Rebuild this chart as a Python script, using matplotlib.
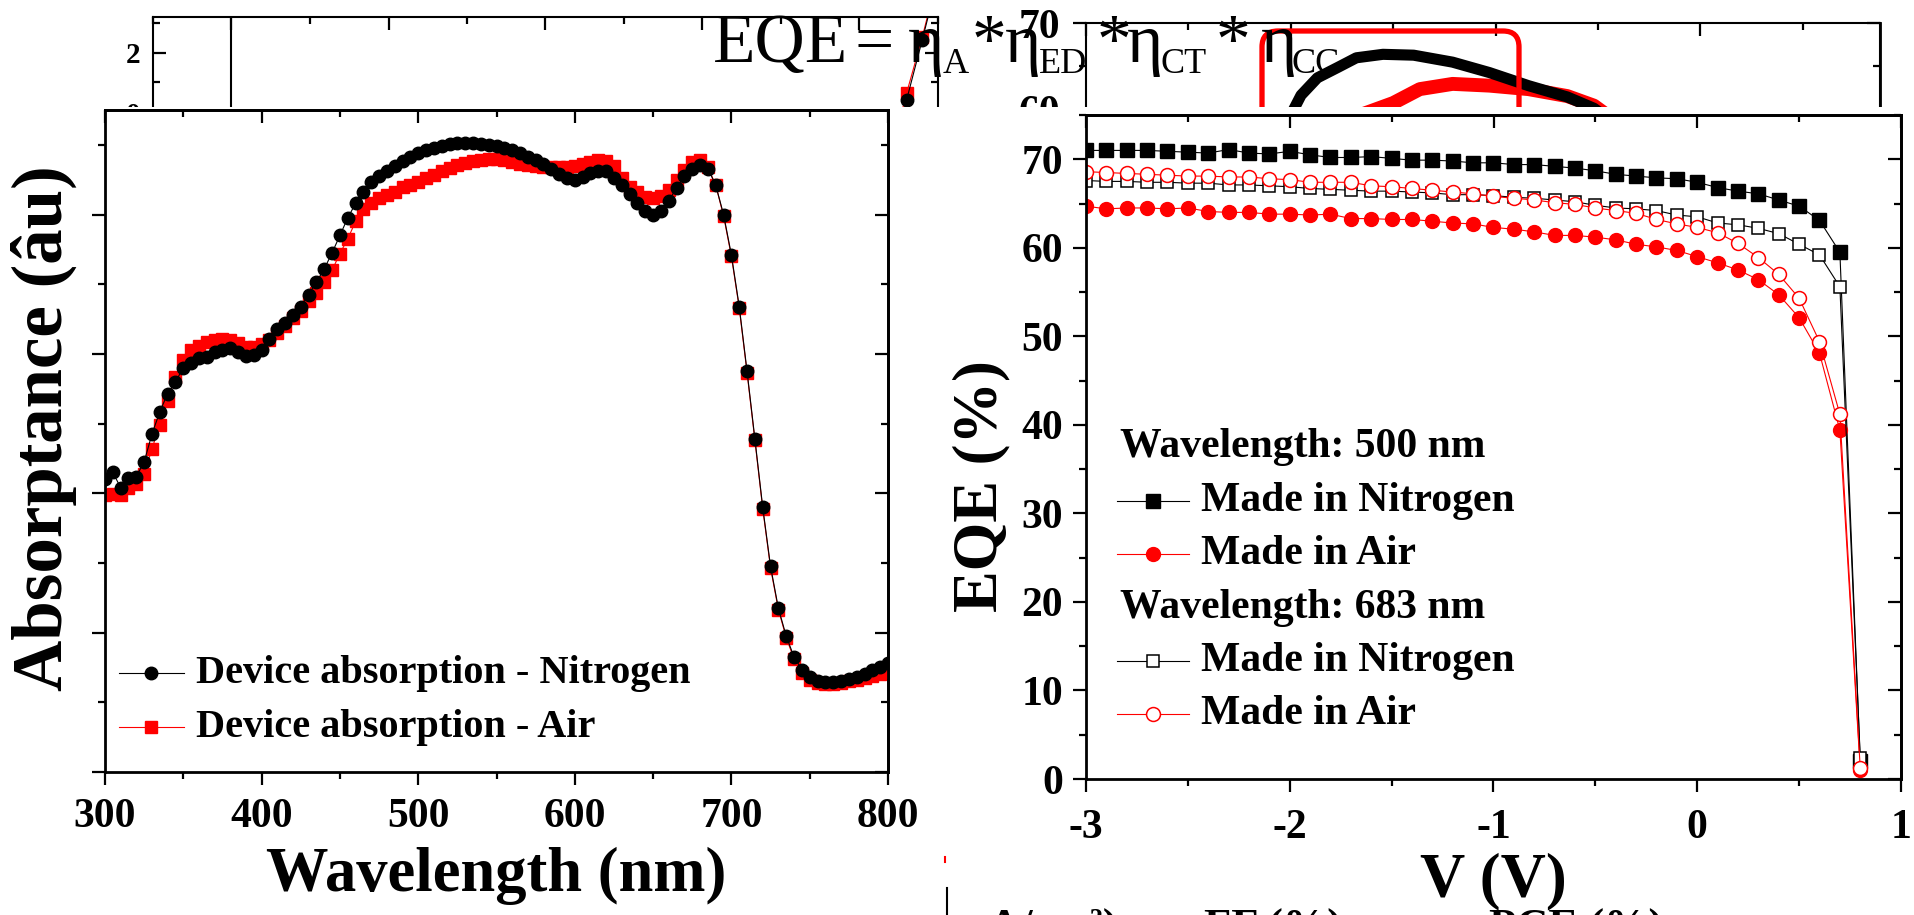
import numpy as np
import matplotlib
matplotlib.use("Agg")
import matplotlib.pyplot as plt
from matplotlib.ticker import MultipleLocator, NullFormatter
from matplotlib.patches import Rectangle, FancyBboxPatch
from matplotlib.lines import Line2D

W, H = 1915, 915

# ---- left panel: device absorptance, 300-800 nm every 5 nm ----
wavelength = np.arange(300, 805, 5)
absorb_nitrogen = [
    4.20, 4.30, 4.08, 4.22, 4.24, 4.45, 4.85, 5.17, 5.43, 5.60,   # 300-345
    5.80, 5.87, 5.94, 5.96, 6.03, 6.06, 6.08, 6.03, 5.97, 5.98,   # 350-395
    6.05, 6.22, 6.36, 6.45, 6.56, 6.68, 6.85, 7.03, 7.22, 7.45,   # 400-445
    7.70, 7.95, 8.16, 8.33, 8.46, 8.56, 8.63, 8.70, 8.77, 8.83,   # 450-495
    8.88, 8.93, 8.96, 8.99, 9.01, 9.02, 9.02, 9.02, 9.01, 9.00,   # 500-545
    8.98, 8.95, 8.92, 8.88, 8.83, 8.78, 8.72, 8.65, 8.58, 8.52,   # 550-595
    8.50, 8.54, 8.59, 8.63, 8.63, 8.53, 8.43, 8.30, 8.16, 8.05,   # 600-645
    7.99, 8.05, 8.20, 8.38, 8.55, 8.65, 8.71, 8.66, 8.42, 8.00,   # 650-695
    7.42, 6.68, 5.75, 4.78, 3.80, 2.95, 2.35, 1.95, 1.65, 1.47,   # 700-745
    1.37, 1.31, 1.29, 1.29, 1.31, 1.34, 1.37, 1.41, 1.46, 1.51,   # 750-795
    1.56]
absorb_air = [
    3.97, 3.99, 3.98, 4.07, 4.14, 4.27, 4.64, 4.98, 5.33, 5.67,
    5.91, 6.05, 6.12, 6.17, 6.20, 6.21, 6.20, 6.16, 6.10, 6.10,
    6.14, 6.20, 6.30, 6.40, 6.52, 6.62, 6.76, 6.87, 7.03, 7.20,
    7.44, 7.65, 7.90, 8.08, 8.16, 8.23, 8.28, 8.33, 8.39, 8.43,
    8.47, 8.52, 8.57, 8.62, 8.67, 8.71, 8.74, 8.77, 8.78, 8.79,
    8.79, 8.78, 8.76, 8.73, 8.71, 8.69, 8.68, 8.68, 8.68, 8.68,
    8.69, 8.72, 8.76, 8.78, 8.77, 8.70, 8.53, 8.40, 8.32, 8.25,
    8.24, 8.27, 8.35, 8.50, 8.64, 8.75, 8.78, 8.68, 8.42, 7.98,
    7.40, 6.66, 5.73, 4.76, 3.78, 2.93, 2.33, 1.93, 1.62, 1.42,
    1.32, 1.28, 1.27, 1.27, 1.28, 1.30, 1.32, 1.35, 1.38, 1.40,
    1.43]
left_labels = ["Device absorption - Nitrogen", "Device absorption - Air"]

# ---- right panel: EQE vs bias, -3.0 to 0.8 V ----
voltage = np.round(np.arange(-3.0, 0.85, 0.1), 1)
eqe_n500 = [71.0, 71.0, 71.0, 71.0, 70.9, 70.8, 70.7, 71.1, 70.7, 70.6,
            70.9, 70.5, 70.2, 70.2, 70.3, 70.1, 69.9, 69.9, 69.8, 69.6,
            69.6, 69.4, 69.4, 69.2, 69.0, 68.7, 68.3, 68.1, 67.9, 67.8,
            67.4, 66.8, 66.4, 66.1, 65.4, 64.7, 63.1, 59.5, 2.0]
eqe_a500 = [64.7, 64.4, 64.5, 64.5, 64.4, 64.5, 64.1, 64.0, 64.0, 63.8,
            63.8, 63.7, 63.8, 63.3, 63.3, 63.2, 63.2, 63.0, 62.8, 62.7,
            62.3, 62.1, 61.8, 61.4, 61.4, 61.2, 60.9, 60.4, 60.1, 59.7,
            59.0, 58.3, 57.5, 56.4, 54.7, 52.1, 48.1, 39.4, 1.0]
eqe_n683 = [67.6, 67.5, 67.5, 67.4, 67.4, 67.3, 67.3, 67.1, 67.1, 67.0,
            66.9, 66.7, 66.6, 66.5, 66.4, 66.4, 66.3, 66.2, 66.0, 66.0,
            65.9, 65.7, 65.6, 65.4, 65.2, 64.8, 64.5, 64.4, 64.2, 63.7,
            63.5, 62.8, 62.6, 62.2, 61.6, 60.4, 59.2, 55.6, 2.4]
eqe_a683 = [68.6, 68.5, 68.4, 68.3, 68.2, 68.1, 68.1, 68.0, 68.0, 67.8,
            67.7, 67.4, 67.4, 67.4, 67.0, 66.9, 66.7, 66.5, 66.3, 66.1,
            65.8, 65.6, 65.4, 65.1, 64.9, 64.5, 64.2, 63.9, 63.2, 62.7,
            62.3, 61.7, 60.5, 58.9, 57.0, 54.3, 49.4, 41.2, 1.2]
right_labels = ["Wavelength: 500 nm", "Made in Nitrogen", "Made in Air",
                "Wavelength: 683 nm", "Made in Nitrogen", "Made in Air"]

# ---- fragments of the figures lying underneath ----
strip_wl = [725, 730, 740, 745]
strip_nitrogen = [-0.6, 0.41, 2.45, 3.5]
strip_air = [-0.4, 0.64, 2.54, 3.6]
band_wl_n = [398, 405, 413, 423, 432, 445, 460, 479, 497, 516, 535, 548, 555]
band_n = [58.5, 61.7, 63.7, 64.9, 66.0, 66.4, 66.3, 65.5, 64.3, 62.8, 61.5, 60.2, 59.0]
band_wl_a = [436, 450, 463, 479, 497, 516, 535, 548, 555]
band_a = [59.6, 60.8, 62.4, 63.0, 62.8, 62.4, 61.6, 60.5, 59.3]
bottom_titles = ["mA/cm²)", "FF (%)", "PCE (%)"]

plt.rc("font", family=["Liberation Serif", "DejaVu Serif"], weight="bold")
plt.rc("axes", linewidth=2, labelweight="bold", unicode_minus=False)
for a in ("xtick", "ytick"):
    plt.rc(f"{a}.major", width=1.6, size=9.5, pad=9)
    plt.rc(f"{a}.minor", width=1.6, size=5)

fig = plt.figure(figsize=(W / 100, H / 100), dpi=100)


def px_axes(left, top, right, bottom, z):
    return fig.add_axes([left / W, 1 - bottom / H, (right - left) / W, (bottom - top) / H], zorder=z)


def origin_style(ax, xmaj, xmin, ymaj, ymin):
    # bottom/left ticks point out, top/right point in, like Origin
    ax.xaxis.set_major_locator(MultipleLocator(xmaj))
    ax.xaxis.set_minor_locator(MultipleLocator(xmin))
    ax.yaxis.set_major_locator(MultipleLocator(ymaj))
    ax.yaxis.set_minor_locator(MultipleLocator(ymin))
    ax.tick_params(which="both", direction="out", top=False, right=False, labelsize=30)
    top = ax.secondary_xaxis("top")
    top.xaxis.set_major_locator(MultipleLocator(xmaj))
    top.xaxis.set_minor_locator(MultipleLocator(xmin))
    top.tick_params(which="both", direction="in", labeltop=False)
    right = ax.secondary_yaxis("right")
    right.yaxis.set_major_locator(MultipleLocator(ymaj))
    right.yaxis.set_minor_locator(MultipleLocator(ymin))
    right.tick_params(which="both", direction="in", labelright=False)


# ---------- background strips ----------
ax_bl = px_axes(153, 17, 938, 130, 0)
ax_bl.set_xlim(250, 750)
ax_bl.set_ylim(-0.61, 3.22)
ax_bl.axvline(300, color="black", lw=1.5)
ax_bl.plot(strip_wl, strip_air, color="red", marker="s", ms=9, lw=0.8)
ax_bl.plot(strip_wl, strip_nitrogen, color="black", marker="o", ms=9, lw=0.8)
ax_bl.xaxis.set_major_locator(MultipleLocator(100))
ax_bl.xaxis.set_minor_locator(MultipleLocator(50))
ax_bl.yaxis.set_major_locator(MultipleLocator(2))
ax_bl.yaxis.set_minor_locator(MultipleLocator(1))
ax_bl.tick_params(axis="x", which="both", bottom=False, top=True, labelbottom=False, direction="in")
ax_bl.tick_params(axis="y", which="both", left=True, right=True, direction="in", labelsize=21)
for s in ax_bl.spines.values():
    s.set_linewidth(1.5)

ax_br = px_axes(1086, 23, 1880, 130, 0)
ax_br.set_xlim(300, 687.7)
ax_br.set_ylim(57.7, 70)
ax_br.plot(band_wl_a, band_a, color="red", lw=10)
ax_br.plot(band_wl_n, band_n, color="black", lw=8)
ax_br.xaxis.set_major_locator(MultipleLocator(100))
ax_br.xaxis.set_minor_locator(MultipleLocator(50))
ax_br.yaxis.set_major_locator(MultipleLocator(10))
ax_br.yaxis.set_minor_locator(MultipleLocator(5))
ax_br.tick_params(axis="x", which="both", bottom=False, top=True, labelbottom=False, direction="in")
ax_br.tick_params(axis="y", which="both", direction="out", labelsize=30)
br_right = ax_br.secondary_yaxis("right")
br_right.yaxis.set_major_locator(MultipleLocator(10))
br_right.yaxis.set_minor_locator(MultipleLocator(5))
br_right.tick_params(which="both", direction="in", labelright=False)
for s in ax_br.spines.values():
    s.set_linewidth(1.5)

fig.add_artist(FancyBboxPatch((12.62, 6.0), 2.57, 2.84,
                              boxstyle="round,pad=0,rounding_size=0.16",
                              transform=fig.dpi_scale_trans, fill=False,
                              ec="red", lw=3.8, zorder=0.5))

# white backing of the two front figures
fig.add_artist(Rectangle((0, 0), 1, 1 - 107 / H, transform=fig.transFigure,
                         fc="white", ec="none", zorder=1))

# formula written over the top
formula = [("EQE", 713, 62, 50), ("=", 855, 62, 50), ("η", 908, 62, 50), ("A", 943, 73, 26),
           ("*", 972, 62, 50), ("η", 1005, 62, 50), ("ED", 1039, 73, 26),
           ("*", 1097, 62, 50), ("η", 1127, 62, 50), ("CT", 1161, 73, 26),
           ("*", 1216, 62, 50), ("η", 1261, 62, 50), ("CC", 1292, 73, 26)]
for txt, x, y, size in formula:
    fig.text(x / W, 1 - y / H, txt, fontsize=size, fontweight="normal",
             ha="left", va="baseline", zorder=4)

# ---------- left panel ----------
ax1 = px_axes(105, 110, 888, 772, 2)
ax1.set_facecolor("white")
ax1.plot(wavelength, absorb_air, color="red", marker="s", ms=9, lw=0.8)
ax1.plot(wavelength, absorb_nitrogen, color="black", marker="o", ms=9, lw=0.8)
ax1.set_xlim(300, 800)
ax1.set_ylim(0, 9.5)
origin_style(ax1, 100, 50, 2, 1)
ax1.yaxis.set_major_formatter(NullFormatter())
ax1.set_xlabel("Wavelength (nm)", fontsize=45)
ax1.xaxis.set_label_coords(0.5, -0.113)
ax1.set_ylabel("Absorptance (âu)", fontsize=51)
ax1.yaxis.set_label_coords(-0.036, 0.52)

left_styles = [dict(color="black", marker="o"), dict(color="red", marker="s")]
for (lab, st, yy) in zip(left_labels, left_styles, [673, 727]):
    ya = (772 - yy) / 662
    ax1.add_line(Line2D([0.018, 0.101], [ya, ya], transform=ax1.transAxes, lw=0.8, color=st["color"]))
    ax1.add_line(Line2D([0.059], [ya], transform=ax1.transAxes, ms=9, lw=0, **st))
    ax1.text(0.116, ya, lab, transform=ax1.transAxes, fontsize=29, va="center", ha="left")

# ---------- right panel ----------
ax2 = px_axes(1086, 115, 1901, 779, 2)
ax2.set_facecolor("white")
s_n500 = dict(color="black", marker="s", ms=9.5, mfc="black", mec="black")
s_a500 = dict(color="red", marker="o", ms=10, mfc="red", mec="red")
s_n683 = dict(color="black", marker="s", ms=9, mfc="white", mec="black", mew=1.1)
s_a683 = dict(color="red", marker="o", ms=10, mfc="white", mec="red", mew=1.1)
ax2.plot(voltage, eqe_n500, lw=0.8, **s_n500)
ax2.plot(voltage, eqe_a500, lw=0.8, **s_a500)
ax2.plot(voltage, eqe_n683, lw=0.8, **s_n683)
ax2.plot(voltage, eqe_a683, lw=0.8, **s_a683)
ax2.set_xlim(-3, 1)
ax2.set_ylim(0, 75)
origin_style(ax2, 1, 0.5, 10, 5)
ax2.tick_params(axis="x", which="major", pad=12)
ax2.tick_params(axis="y", which="major", pad=7)
ax2.set_xlabel("V (V)", fontsize=45)
ax2.xaxis.set_label_coords(0.5, -0.111)
ax2.set_ylabel("EQE (%)", fontsize=45)
ax2.yaxis.set_label_coords(-0.093, 0.441)

right_styles = [None, s_n500, s_a500, None, s_n683, s_a683]
for lab, st, yy in zip(right_labels, right_styles, [447, 501, 554, 608, 661, 714]):
    ya = (779 - yy) / 664
    if st is None:
        ax2.text(0.042, ya, lab, transform=ax2.transAxes, fontsize=30, va="center", ha="left")
        continue
    ax2.add_line(Line2D([0.038, 0.126], [ya, ya], transform=ax2.transAxes, lw=0.8, color=st["color"]))
    ax2.add_line(Line2D([0.082], [ya], transform=ax2.transAxes, lw=0, **st))
    ax2.text(0.141, ya, lab, transform=ax2.transAxes, fontsize=30, va="center", ha="left")

# ---------- bits of a lower figure peeking out at the bottom ----------
for txt, x in zip(bottom_titles, [952, 1204, 1489]):
    fig.text(x / W, 1 - 940 / H, txt, fontsize=32, ha="left", va="baseline", zorder=4)
fig.add_artist(Line2D([947 / W, 947 / W], [1 - 888 / H, 0], transform=fig.transFigure,
                      color="black", lw=1.5, zorder=4))
fig.add_artist(Line2D([945 / W, 945 / W], [1 - 857 / H, 1 - 862 / H], transform=fig.transFigure,
                      color="red", lw=1.5, zorder=4))

fig.savefig("out.png", dpi=100, facecolor="white")
